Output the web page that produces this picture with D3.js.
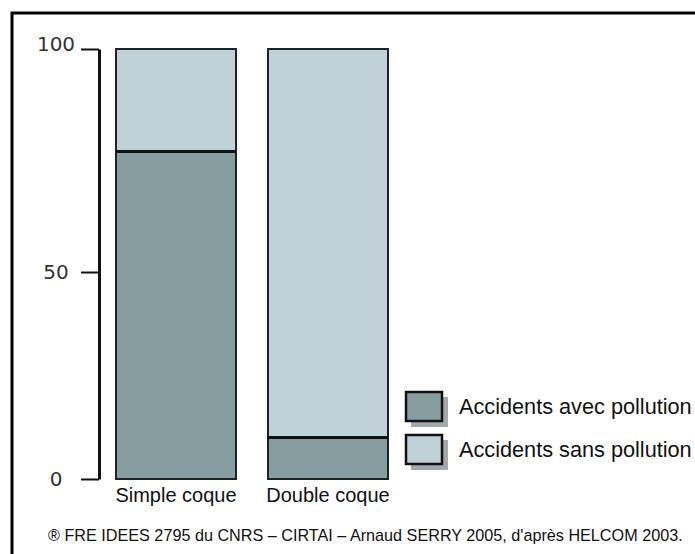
<!DOCTYPE html>
<html>
<head>
<meta charset="utf-8">
<script src="https://cdn.jsdelivr.net/npm/d3@7"></script>
<style>
  html, body { margin: 0; padding: 0; background: #fff; }
  svg { display: block; }
</style>
</head>
<body>
<svg id="chart" width="695" height="554"></svg>
<script>
// Hull types and share of accidents (%) with and without pollution
const categories = ["Simple coque", "Double coque"];
const avecPollution = [77, 10];
const sansPollution = [23, 90];
const tickValues = [0, 50, 100];
const seriesNames = ["Accidents avec pollution", "Accidents sans pollution"];
const seriesColors = ["#879ea1", "#c1d1d8"];
const sourceText = "\u00AE FRE IDEES 2795 du CNRS \u2013 CIRTAI \u2013 Arnaud SERRY 2005, d'apr\u00E8s HELCOM 2003.";

const svg = d3.select("#chart");

// frame: top and left rules
svg.append("line").attr("x1", 11).attr("x2", 695).attr("y1", 13).attr("y2", 13)
  .attr("stroke", "#000").attr("stroke-width", 3);
svg.append("line").attr("x1", 12).attr("x2", 12).attr("y1", 12).attr("y2", 554)
  .attr("stroke", "#000").attr("stroke-width", 3);

// scales: the hand-drawn axis spaces its 50 mark slightly below the midpoint
const y = d3.scaleLinear().domain([0, 50, 100]).range([479, 272, 49]);
const x = d3.scaleBand().domain(categories).range([116, 388]).paddingInner(0.2105).paddingOuter(0);

// y axis
const axis = d3.axisLeft(y).tickValues(tickValues).tickSize(18).tickSizeOuter(0).tickFormat(d3.format("d"));
const gAxis = svg.append("g").attr("transform", "translate(99,0)").call(axis);
gAxis.select(".domain").attr("stroke", "#111").attr("stroke-width", 3);
gAxis.selectAll(".tick line").attr("stroke", "#111").attr("stroke-width", 2);
gAxis.selectAll(".tick text")
  .attr("x", -43).attr("text-anchor", "middle")
  .attr("font-family", "DejaVu Sans").attr("font-size", 20)
  .attr("fill", "#333").attr("dy", d => d === 100 ? "0.05em" : "0.3em");

// stacked bars
const stackData = categories.map((c, i) => ({ cat: c, avec: avecPollution[i], sans: sansPollution[i] }));
const stack = d3.stack().keys(["avec", "sans"])(stackData);

const gBars = svg.append("g");
stack.forEach((layer, li) => {
  gBars.selectAll(null).data(layer).enter().append("rect")
    .attr("x", d => x(d.data.cat))
    .attr("y", d => y(d[1]))
    .attr("width", x.bandwidth())
    .attr("height", d => y(d[0]) - y(d[1]))
    .attr("fill", seriesColors[li]);
});
// outlines and dividers
gBars.selectAll(null).data(stackData).enter().append("rect")
  .attr("x", d => x(d.cat))
  .attr("y", y(100))
  .attr("width", x.bandwidth())
  .attr("height", y(0) - y(100))
  .attr("fill", "none").attr("stroke", "#1c2526").attr("stroke-width", 2);
gBars.selectAll(null).data(stackData).enter().append("line")
  .attr("x1", d => x(d.cat)).attr("x2", d => x(d.cat) + x.bandwidth())
  .attr("y1", d => y(d.avec)).attr("y2", d => y(d.avec))
  .attr("stroke", "#111").attr("stroke-width", 3);

// category labels
svg.selectAll(null).data(categories).enter().append("text")
  .attr("x", d => x(d) + x.bandwidth() / 2)
  .attr("y", 502)
  .attr("text-anchor", "middle")
  .attr("font-family", "Liberation Sans, Arial, sans-serif")
  .attr("font-size", 20)
  .attr("fill", "#111")
  .text(d => d);

// legend
const legend = svg.append("g").attr("transform", "translate(406,392)");
seriesNames.forEach((name, i) => {
  const g = legend.append("g").attr("transform", `translate(0,${i * 43})`);
  g.append("rect").attr("x", 5).attr("y", 5).attr("width", 37).attr("height", 30).attr("fill", "#a3a8aa");
  g.append("rect").attr("x", 0).attr("y", 0).attr("width", 36).attr("height", 29)
    .attr("fill", seriesColors[i]).attr("stroke", "#111").attr("stroke-width", 2.5);
  g.append("text").attr("x", 53).attr("y", 22)
    .attr("font-family", "Liberation Sans, Arial, sans-serif")
    .attr("font-size", 21.7).attr("fill", "#111")
    .text(name);
});

// source line
svg.append("text").attr("x", 48).attr("y", 541)
  .attr("font-family", "Liberation Sans, Arial, sans-serif")
  .attr("font-size", 16.2).attr("fill", "#111")
  .text(sourceText);
</script>
</body>
</html>
